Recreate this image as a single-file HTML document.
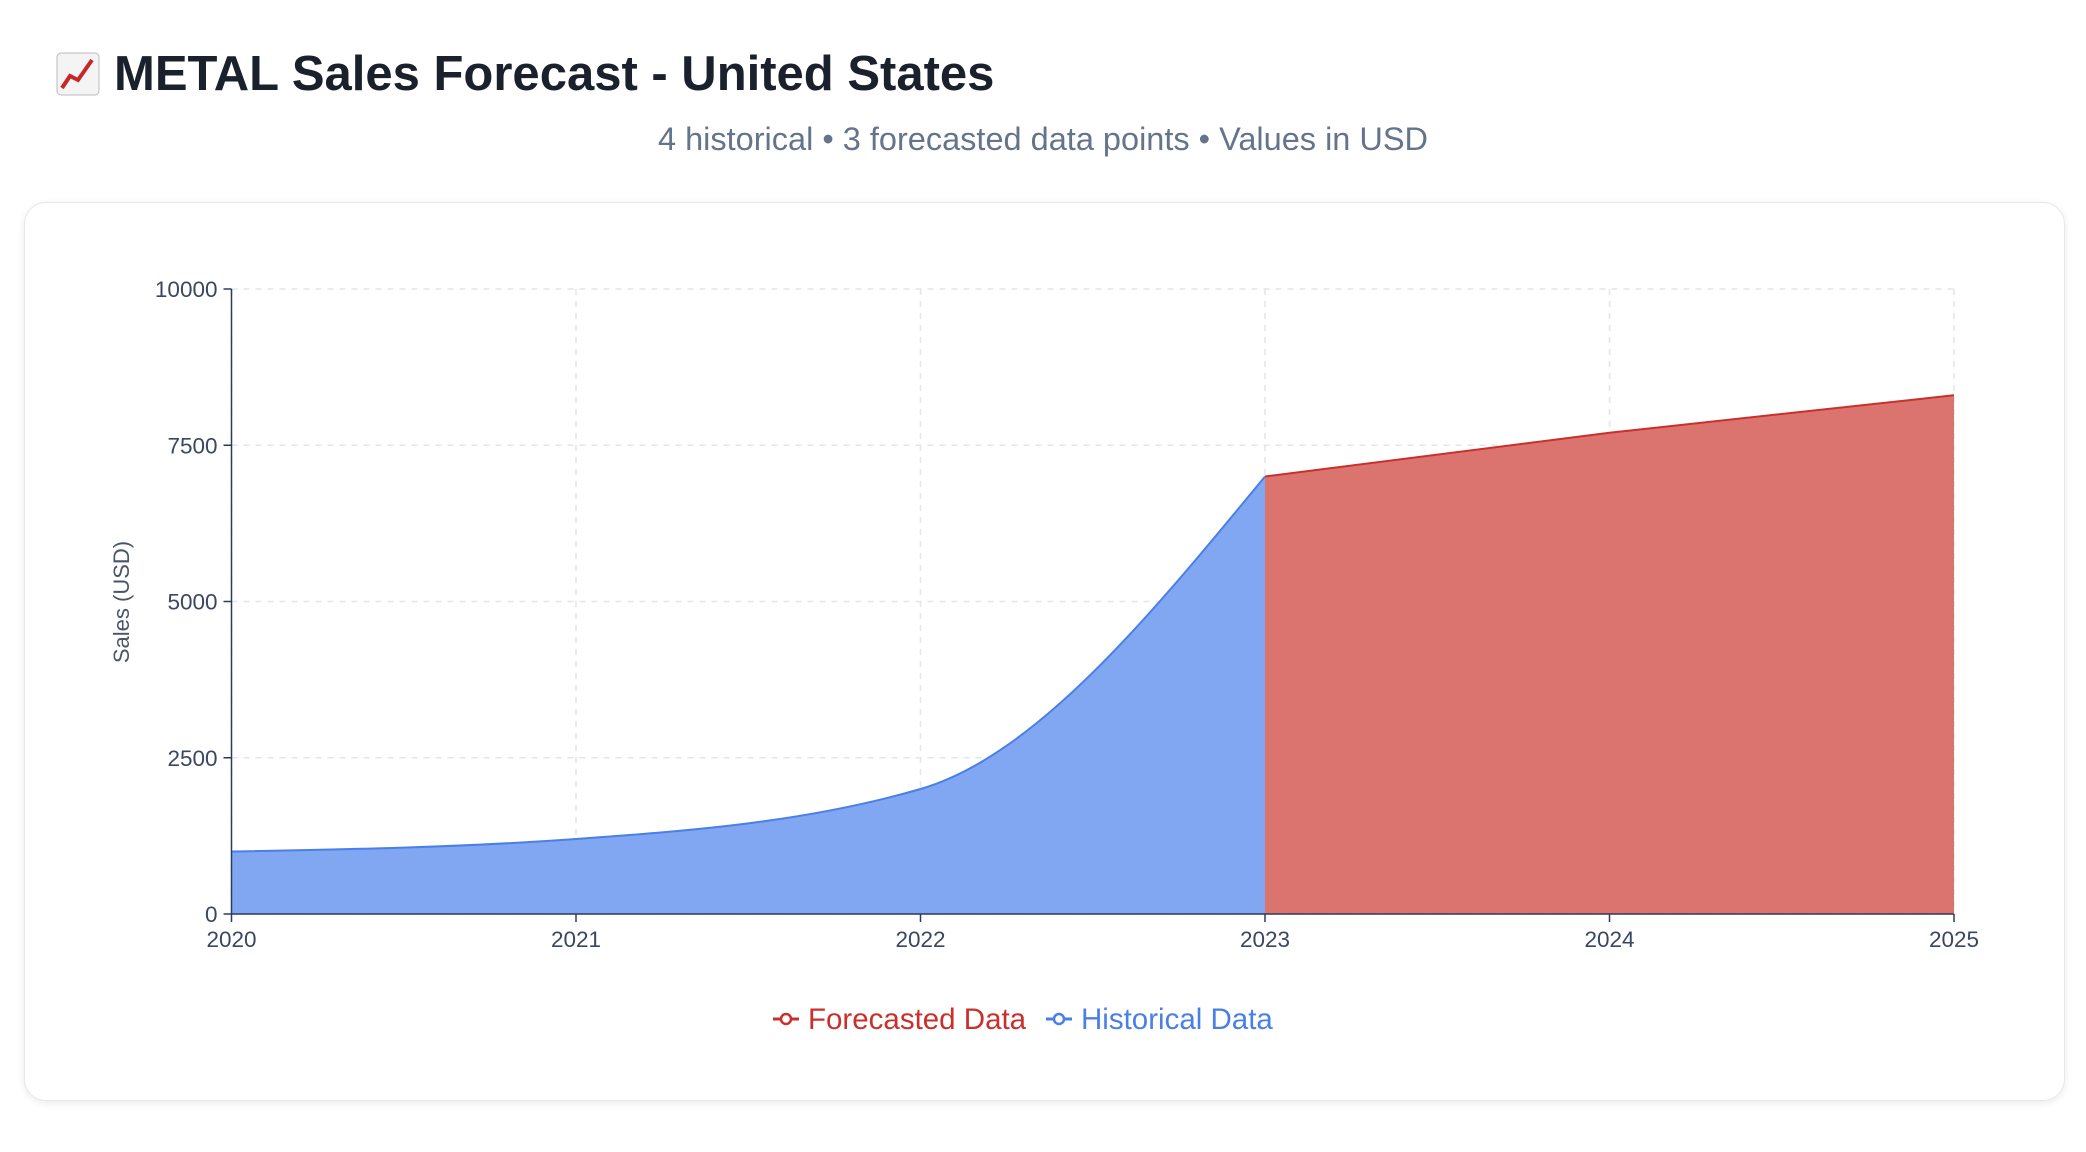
<!DOCTYPE html>
<html><head><meta charset="utf-8"><style>
html,body{margin:0;padding:0;background:#fff;width:2086px;height:1152px;overflow:hidden;font-family:"Liberation Sans",sans-serif}
#title{position:absolute;left:56px;top:44px;height:60px;display:flex;align-items:center;font-size:49px;font-weight:bold;color:#1a202c}
#subtitle{position:absolute;left:0;width:2086px;top:121px;text-align:center;font-size:32.5px;color:#64748b}
#card{position:absolute;left:24px;top:202px;width:2039px;height:897px;border:1px solid #e5e7eb;border-radius:22px;box-shadow:0 2px 8px rgba(0,0,0,0.08);background:#fff}
svg{position:absolute;left:0;top:0}
</style></head><body>
<div id="title"><svg width="44" height="44" viewBox="0 0 44 44" style="position:static;margin-right:14px"><rect x="1" y="1" width="42" height="42" rx="4" fill="#f4f4f4" stroke="#bbb"/><polyline points="6,36 14,24 22,28 36,8" fill="none" stroke="#c62828" stroke-width="4"/></svg>METAL Sales Forecast - United States</div>
<div id="subtitle">4 historical • 3 forecasted data points • Values in USD</div>
<div id="card"></div>
<svg id="chart" width="2086" height="1152"></svg>
<script>
const histYears=[2020,2021,2022,2023];
const histValues=[1000,1200,2000,7000];
const foreYears=[2023,2024,2025];
const foreValues=[7000,7700,8300];
const xTicks=[2020,2021,2022,2023,2024,2025];
const yTicks=[0,2500,5000,7500,10000];

const X0=231.5,X1=1954,Y0=914,Y1=289;
const xs=v=>X0+(v-2020)/(2025-2020)*(X1-X0);
const ys=v=>Y0-v/10000*(Y0-Y1);
const svg=document.getElementById('chart');
const NS='http://www.w3.org/2000/svg';
function mk(tag,attrs,parent){const e=document.createElementNS(NS,tag);for(const k in attrs)e.setAttribute(k,attrs[k]);(parent||svg).appendChild(e);return e;}

function monotone(px,py){
  const n=px.length;if(n<3){return 'M'+px.map((x,i)=>x+','+py[i]).join('L');}
  const d=[],m=[];
  for(let i=0;i<n-1;i++)d.push((py[i+1]-py[i])/(px[i+1]-px[i]));
  for(let i=1;i<n-1;i++){m[i]=(d[i-1]*d[i]<=0)?0:(()=>{const h0=px[i]-px[i-1],h1=px[i+1]-px[i],p=(d[i-1]*h1+d[i]*h0)/(h0+h1);return (Math.sign(d[i-1])+Math.sign(d[i]))*Math.min(Math.abs(d[i-1]),Math.abs(d[i]),0.5*Math.abs(p))||0;})();}
  m[0]=(3*d[0]-m[1])/2;
  m[n-1]=(3*d[n-2]-m[n-2])/2;
  let s='M'+px[0]+','+py[0];
  for(let i=0;i<n-1;i++){const h=(px[i+1]-px[i])/3;s+='C'+(px[i]+h)+','+(py[i]+h*m[i])+' '+(px[i+1]-h)+','+(py[i+1]-h*m[i+1])+' '+px[i+1]+','+py[i+1];}
  return s;
}

yTicks.forEach(t=>{const g=mk('line',{x1:X0,x2:X1,y1:ys(t),y2:ys(t),stroke:'#e2e5ea','stroke-width':1.5,'stroke-dasharray':'6,6'});

});
xTicks.forEach(t=>{const g=mk('line',{x1:xs(t),x2:xs(t),y1:Y1,y2:Y0,stroke:'#e2e5ea','stroke-width':1.5,'stroke-dasharray':'6,6'});

});

const hx=histYears.map(xs),hy=histValues.map(ys);
const hl=monotone(hx,hy);
const ha=mk('path',{d:hl+'L'+hx[hx.length-1]+','+Y0+'L'+hx[0]+','+Y0+'Z',fill:'#81a6f2'});


const hln=mk('path',{d:hl,fill:'none',stroke:'#4a7fe8','stroke-width':2});


const fx=foreYears.map(xs),fy=foreValues.map(ys);
const fl=monotone(fx,fy);
const fa=mk('path',{d:fl+'L'+fx[fx.length-1]+','+Y0+'L'+fx[0]+','+Y0+'Z',fill:'#db746f'});


const fln=mk('path',{d:fl,fill:'none',stroke:'#c9302c','stroke-width':2});



const ax=mk('line',{x1:X0,x2:X1,y1:Y0,y2:Y0,stroke:'#2e3a5c','stroke-width':1.5});


const ay=mk('line',{x1:X0,x2:X0,y1:Y1,y2:Y0,stroke:'#2e3a5c','stroke-width':1.5});


yTicks.forEach(t=>{mk('line',{x1:X0-8,x2:X0,y1:ys(t),y2:ys(t),stroke:'#2e3a5c','stroke-width':1.5});
const l=mk('text',{x:X0-14,y:ys(t)+8,'text-anchor':'end','font-size':22.5,fill:'#3b4660'});l.textContent=t;

});
xTicks.forEach(t=>{mk('line',{x1:xs(t),x2:xs(t),y1:Y0,y2:Y0+8,stroke:'#2e3a5c','stroke-width':1.5});
const l=mk('text',{x:xs(t),y:Y0+33,'text-anchor':'middle','font-size':22.5,fill:'#3b4660'});l.textContent=t;

});
const yt=mk('text',{x:0,y:0,transform:'translate(129,602) rotate(-90)','text-anchor':'middle','font-size':22,fill:'#4a5568'});yt.textContent='Sales (USD)';



function legend(x,color,label,name){
  const g=mk('g',{});
  
  
  mk('line',{x1:x,x2:x+26,y1:1019,y2:1019,stroke:color,'stroke-width':3},g);
  mk('circle',{cx:x+13,cy:1019,r:5,fill:'#fff',stroke:color,'stroke-width':2.5},g);
  const t=mk('text',{x:x+35,y:1029,'font-size':29.5,fill:color},g);t.textContent=label;
}
legend(773,'#c9302c','Forecasted Data','legend-forecasted');
legend(1046,'#4a7fe8','Historical Data','legend-historical');
</script>
</body></html>
